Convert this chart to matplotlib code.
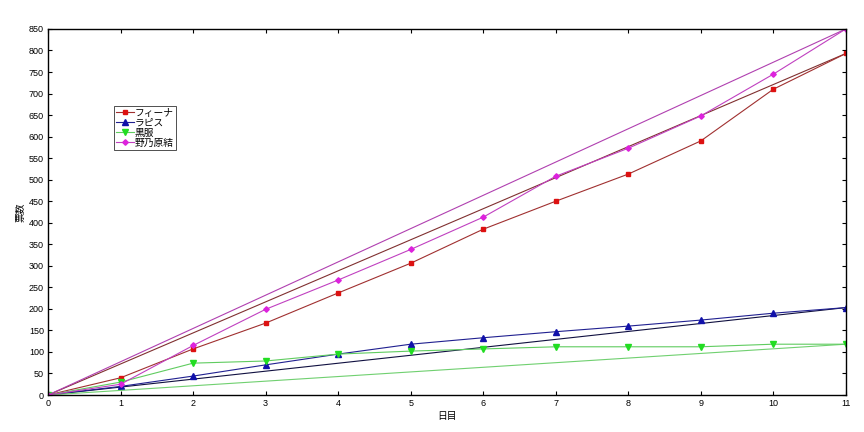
import numpy as np
import matplotlib
matplotlib.use("Agg")
import matplotlib.pyplot as plt

plt.rcParams['font.family'] = ['Liberation Sans', 'Noto Sans CJK JP', 'DejaVu Sans']

days = [0, 1, 2, 3, 4, 5, 6, 7, 8, 9, 10, 11]
fina = [0, 40, 107, 167, 237, 306, 385, 450, 513, 590, 710, 793]
lapis = [0, 20, 44, 70, 95, 118, 133, 147, 160, 174, 190, 203]
kurofuku = [0, 30, 74, 79, 95, 102, 107, 112, 112, 112, 118, 118]
nonohara = [0, 25, 115, 199, 267, 338, 413, 508, 573, 648, 745, 850]

names = ["フィーナ", "ラピス", "黒服", "野乃原結"]
series = [fina, lapis, kurofuku, nonohara]
# trend lines: values at day 0 and day 11
trend_x = [0, 11]
trend_ends = [[0, 793], [0, 203], [0, 118], [0, 850]]

line_colors = ["#a03030", "#202090", "#60cc60", "#c040c0"]
marker_colors = ["#dd1111", "#1111aa", "#22dd22", "#dd22dd"]
trend_colors = ["#803030", "#101040", "#70d070", "#b040b0"]
markers = ["s", "^", "v", "D"]
msizes = [3.5, 4, 4, 2.8]

fig = plt.figure(figsize=(8.64, 4.32), dpi=100)
ax = fig.add_axes([0.0556, 0.0856, 0.9234, 0.8474])

for vals, ends, name, lc, mc, tc, mk, ms in zip(series, trend_ends, names, line_colors,
                                                 marker_colors, trend_colors, markers, msizes):
    ax.plot(trend_x, ends, color=tc, lw=0.8)
    ax.plot(days, vals, color=lc, lw=0.8, marker=mk, ms=ms,
            markerfacecolor=mc, markeredgecolor=mc, label=name)

ax.set_xlim(0, 11)
ax.set_ylim(0, 850)
ax.set_xticks(days)
ax.set_yticks(np.arange(0, 851, 50))
ax.tick_params(direction="in", top=True, right=True, labelsize=6.5, length=3, width=0.8, pad=3)
for s in ax.spines.values():
    s.set_linewidth(1)

ax.set_xlabel("日目", fontsize=7, labelpad=2)
ax.set_ylabel("票数", fontsize=7, labelpad=2)

leg = ax.legend(loc="upper left", bbox_to_anchor=(0.083, 0.79), fontsize=7,
                frameon=True, fancybox=False, edgecolor="black", handlelength=1.8,
                handletextpad=0.1, borderpad=0.2, labelspacing=0.0, borderaxespad=0)
leg.get_frame().set_linewidth(0.6)

fig.savefig("out.png", dpi=100)
